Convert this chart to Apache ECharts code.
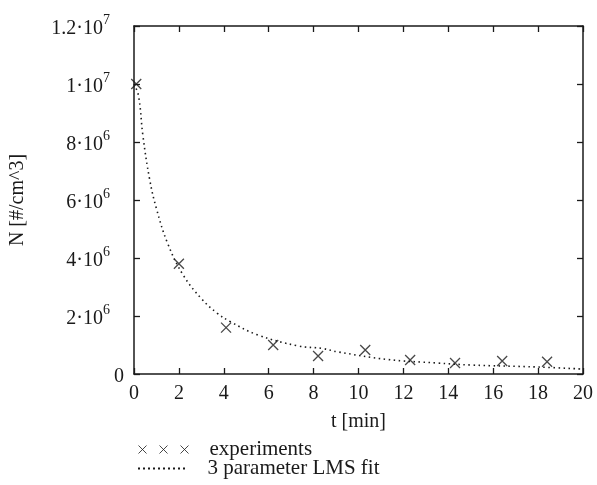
<!DOCTYPE html>
<html>
<head>
<meta charset="utf-8">
<script src="https://cdn.jsdelivr.net/npm/echarts@6/dist/echarts.min.js"></script>
<style>html,body{margin:0;padding:0;background:#fff}#c{width:597px;height:485px}</style>
</head>
<body>
<div id="c"></div>
<script>
// Experimental data (t in min, N in #/cm^3)
const expT = [0.1, 2.0, 4.1, 6.2, 8.2, 10.3, 12.3, 14.3, 16.4, 18.4];
const expN = [1.0e7, 3.8e6, 1.6e6, 1.0e6, 0.62e6, 0.83e6, 0.48e6, 0.38e6, 0.45e6, 0.42e6];
// 3 parameter LMS fit curve
const fitT = [0, 0.2, 0.4, 0.7, 1.0, 1.5, 2.2, 3.0, 3.7, 4.3, 5.5, 7.3, 8.4, 9.1, 11.3, 13.5, 15, 18, 20];
const fitN = [1.0e7, 9.6e6, 8.2e6, 6.7e6, 5.7e6, 4.5e6, 3.4e6, 2.6e6, 2.1e6, 1.8e6, 1.35e6, 0.97e6, 0.88e6, 0.76e6, 0.5e6, 0.38e6, 0.31e6, 0.24e6, 0.17e6];
// Tick labels
const yTickValues = [0, 2e6, 4e6, 6e6, 8e6, 1e7, 1.2e7];
const yTickTexts = ['0', '2·10^6', '4·10^6', '6·10^6', '8·10^6', '1·10^7', '1.2·10^7'];
const seriesNames = ['experiments', '3 parameter LMS fit'];

const FONT = '"Liberation Serif", "DejaVu Serif", serif';
const INK = '#1a1a1a';

function yFmt(v) {
  const i = yTickValues.findIndex(x => Math.abs(x - v) < 1);
  if (i < 0) return '';
  const t = yTickTexts[i];
  if (t.indexOf('^') < 0) return '{m|' + t + '}';
  const p = t.split('^');
  return '{m|' + p[0] + '}{e|' + p[1] + '}';
}

const tickStyle = { inside: true, length: 6, lineStyle: { color: INK, width: 1.3 } };
const lineStyle = { onZero: false, lineStyle: { color: INK, width: 1.5 } };

// dotted-line legend icon
let dots = '';
for (let k = 0; k < 10; k++) { const x = k * 5; dots += 'M' + x + ',0h2v2h-2z'; }

const legendText = { fontFamily: FONT, fontSize: 21, color: INK, padding: [0, 0, 0, 16] };

const chart = echarts.init(document.getElementById('c'));
chart.setOption({
  animation: false,
  backgroundColor: '#fff',
  grid: { left: 133, right: 14, top: 26, bottom: 111 },
  xAxis: [{
    type: 'value', min: 0, max: 20, interval: 2, position: 'bottom',
    name: 't [min]', nameLocation: 'middle', nameGap: 38,
    nameTextStyle: { fontFamily: FONT, fontSize: 20, color: INK },
    axisLine: lineStyle, axisTick: tickStyle, splitLine: { show: false },
    axisLabel: { fontFamily: FONT, fontSize: 20, color: INK, margin: 10 }
  }, {
    type: 'value', min: 0, max: 20, interval: 2, position: 'top',
    axisLine: lineStyle, axisTick: tickStyle, splitLine: { show: false },
    axisLabel: { show: false }
  }],
  yAxis: [{
    type: 'value', min: 0, max: 1.2e7, interval: 2e6, position: 'left',
    name: 'N [#/cm^3]', nameLocation: 'middle', nameGap: 106, nameRotate: 90,
    nameTextStyle: { fontFamily: FONT, fontSize: 20, color: INK },
    axisLine: lineStyle, axisTick: tickStyle, splitLine: { show: false },
    axisLabel: {
      margin: 10, formatter: yFmt,
      rich: {
        m: { fontFamily: FONT, fontSize: 20, color: INK, lineHeight: 26, verticalAlign: 'bottom' },
        e: { fontFamily: FONT, fontSize: 14, color: INK, lineHeight: 26, verticalAlign: 'top', padding: [0, 14, 0, 0] }
      }
    }
  }, {
    type: 'value', min: 0, max: 1.2e7, interval: 2e6, position: 'right',
    axisLine: lineStyle, axisTick: tickStyle, splitLine: { show: false },
    axisLabel: { show: false }
  }],
  legend: [{
    left: 133, top: 434, itemWidth: 50, itemHeight: 8,
    textStyle: legendText,
    data: [{ name: seriesNames[0], icon: 'path://M0,0L8,8M8,0L0,8M21,0L29,8M29,0L21,8M42,0L50,8M50,0L42,8',
             itemStyle: { borderWidth: 1 } }]
  }, {
    left: 133, top: 453, itemWidth: 50, itemHeight: 2,
    textStyle: legendText,
    data: [{ name: seriesNames[1], icon: 'path://' + dots, itemStyle: { color: INK } }]
  }],
  series: [{
    name: seriesNames[0], type: 'scatter',
    data: expT.map((t, i) => [t, expN[i]]),
    symbol: 'path://M0,0L10,10M10,0L0,10', symbolSize: 10,
    itemStyle: { color: 'rgba(0,0,0,0)', borderColor: INK, borderWidth: 1.3 },
    z: 3
  }, {
    name: seriesNames[1], type: 'line',
    data: fitT.map((t, i) => [t, fitN[i]]),
    smooth: 0.4, symbol: 'none',
    lineStyle: { color: INK, width: 1.6, type: [1.5, 3.5] },
    itemStyle: { color: INK },
    z: 2
  }]
});
</script>
</body>
</html>
